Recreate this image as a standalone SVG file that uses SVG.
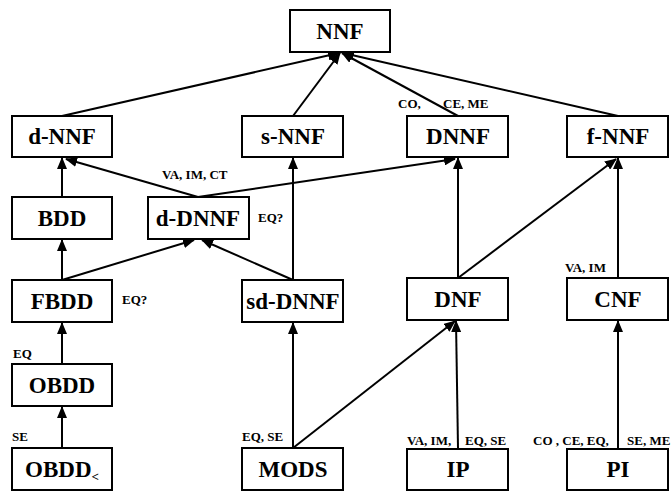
<svg xmlns="http://www.w3.org/2000/svg" width="672" height="492" viewBox="0 0 672 492">
<defs>
<marker id="ah" markerUnits="userSpaceOnUse" markerWidth="12" markerHeight="10" refX="11" refY="5" orient="auto">
<path d="M0,0 L12,5 L0,10 z" fill="#000"/>
</marker>
</defs>
<rect x="0" y="0" width="672" height="492" fill="#fff"/>
<g id="edges" stroke="#000" stroke-width="2" marker-end="url(#ah)">
<line x1="62" y1="116" x2="339" y2="53"/>
<line x1="293" y1="116" x2="340" y2="53"/>
<line x1="458" y1="116" x2="342" y2="53"/>
<line x1="618" y1="116" x2="343" y2="53"/>
<line x1="62" y1="197" x2="62" y2="158"/>
<line x1="198" y1="197" x2="66" y2="159"/>
<line x1="198" y1="197" x2="455" y2="159"/>
<line x1="62" y1="280" x2="62" y2="240"/>
<line x1="62" y1="280" x2="194" y2="240"/>
<line x1="293" y1="280" x2="202" y2="240"/>
<line x1="293" y1="280" x2="293" y2="158"/>
<line x1="458" y1="278" x2="458" y2="158"/>
<line x1="458" y1="278" x2="616" y2="159"/>
<line x1="618" y1="278" x2="618" y2="158"/>
<line x1="62" y1="364" x2="62" y2="323"/>
<line x1="62" y1="448" x2="62" y2="407"/>
<line x1="293" y1="448" x2="293" y2="323"/>
<line x1="293" y1="448" x2="455" y2="321"/>
<line x1="458" y1="448" x2="456" y2="321"/>
<line x1="618" y1="448" x2="618" y2="321"/>
</g>
<g id="nodes" font-family="Liberation Serif, serif" font-weight="bold" font-size="23" text-anchor="middle">
<g id="NNF"><rect x="290" y="10" width="100" height="42" fill="#fff" stroke="#000" stroke-width="2"/><text x="340" y="39">NNF</text></g>
<g id="dNNF"><rect x="12" y="116" width="100" height="41" fill="#fff" stroke="#000" stroke-width="2"/><text x="62" y="144">d-NNF</text></g>
<g id="sNNF"><rect x="242" y="116" width="101" height="41" fill="#fff" stroke="#000" stroke-width="2"/><text x="293" y="144">s-NNF</text></g>
<g id="DNNF"><rect x="407" y="116" width="101" height="41" fill="#fff" stroke="#000" stroke-width="2"/><text x="458" y="144">DNNF</text></g>
<g id="fNNF"><rect x="567" y="116" width="101" height="41" fill="#fff" stroke="#000" stroke-width="2"/><text x="618" y="144">f-NNF</text></g>
<g id="BDD"><rect x="12" y="197" width="100" height="42" fill="#fff" stroke="#000" stroke-width="2"/><text x="62" y="226">BDD</text></g>
<g id="dDNNF"><rect x="148" y="197" width="101" height="42" fill="#fff" stroke="#000" stroke-width="2"/><text x="198" y="226">d-DNNF</text></g>
<g id="FBDD"><rect x="12" y="280" width="100" height="42" fill="#fff" stroke="#000" stroke-width="2"/><text x="62" y="309">FBDD</text></g>
<g id="sdDNNF"><rect x="242" y="280" width="101" height="42" fill="#fff" stroke="#000" stroke-width="2"/><text x="293" y="309">sd-DNNF</text></g>
<g id="DNF"><rect x="407" y="278" width="101" height="42" fill="#fff" stroke="#000" stroke-width="2"/><text x="458" y="307">DNF</text></g>
<g id="CNF"><rect x="567" y="278" width="101" height="42" fill="#fff" stroke="#000" stroke-width="2"/><text x="618" y="307">CNF</text></g>
<g id="OBDD"><rect x="12" y="364" width="100" height="42" fill="#fff" stroke="#000" stroke-width="2"/><text x="62" y="393">OBDD</text></g>
<g id="OBDDlt"><rect x="12" y="448" width="100" height="42" fill="#fff" stroke="#000" stroke-width="2"/><text x="62" y="477">OBDD<tspan font-size="13" dy="4">&lt;</tspan></text></g>
<g id="MODS"><rect x="242" y="448" width="101" height="42" fill="#fff" stroke="#000" stroke-width="2"/><text x="293" y="477">MODS</text></g>
<g id="IP"><rect x="407" y="449" width="101" height="41" fill="#fff" stroke="#000" stroke-width="2"/><text x="458" y="477">IP</text></g>
<g id="PI"><rect x="567" y="449" width="101" height="41" fill="#fff" stroke="#000" stroke-width="2"/><text x="618" y="477">PI</text></g>
</g>
<g id="labels" font-family="Liberation Serif, serif" font-weight="bold" font-size="13">
<text x="162" y="179">VA, IM, CT</text>
<text x="258" y="222">EQ?</text>
<text x="398" y="108">CO,</text>
<text x="443" y="108">CE, ME</text>
<text x="122" y="304">EQ?</text>
<text x="13" y="358">EQ</text>
<text x="12" y="441">SE</text>
<text x="242" y="441">EQ, SE</text>
<text x="565" y="272">VA, IM</text>
<text x="407" y="445">VA, IM,</text>
<text x="465" y="445">EQ, SE</text>
<text x="533" y="445">CO , CE, EQ,</text>
<text x="627" y="445">SE, ME</text>
</g>
</svg>
